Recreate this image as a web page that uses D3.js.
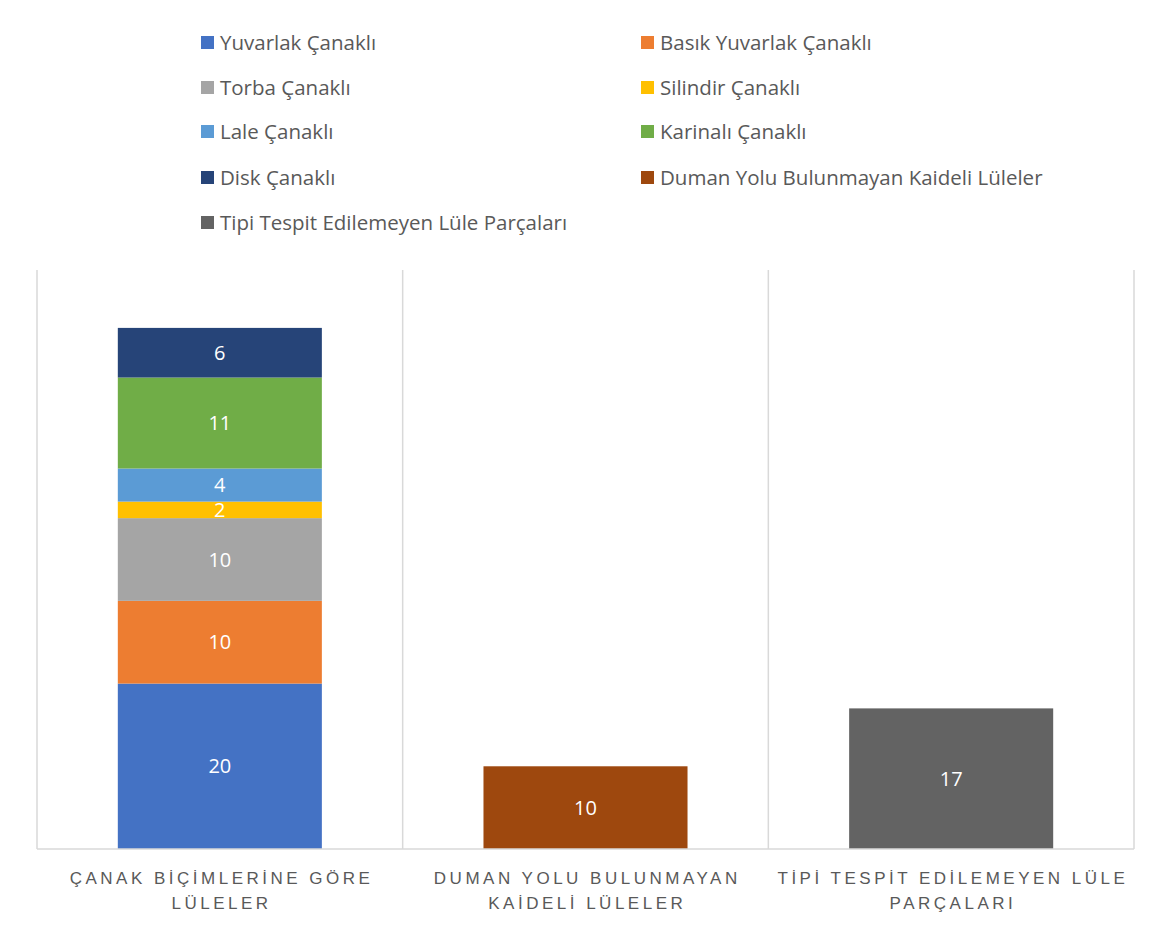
<!DOCTYPE html>
<html>
<head>
<meta charset="utf-8">
<script src="https://cdn.jsdelivr.net/npm/d3@7"></script>
<style>
  html, body { margin: 0; padding: 0; background: #fff; }
  svg { display: block; font-family: "Open Sans", Lato, sans-serif; }
</style>
</head>
<body>
<svg id="chart" width="1158" height="929"></svg>
<script>
// Categories on the x axis
const categories = [
  "ÇANAK BİÇİMLERİNE GÖRE LÜLELER",
  "DUMAN YOLU BULUNMAYAN KAİDELİ LÜLELER",
  "TİPİ TESPİT EDİLEMEYEN LÜLE PARÇALARI"
];
// Axis tick labels, split into the two lines they are drawn on
const tickLines = [
  ["ÇANAK BİÇİMLERİNE GÖRE", "LÜLELER"],
  ["DUMAN YOLU BULUNMAYAN", "KAİDELİ LÜLELER"],
  ["TİPİ TESPİT EDİLEMEYEN LÜLE", "PARÇALARI"]
];
// Series (stack order, bottom to top)
const seriesNames = [
  "Yuvarlak Çanaklı",
  "Basık Yuvarlak Çanaklı",
  "Torba Çanaklı",
  "Silindir Çanaklı",
  "Lale Çanaklı",
  "Karinalı Çanaklı",
  "Disk Çanaklı",
  "Duman Yolu Bulunmayan Kaideli Lüleler",
  "Tipi Tespit Edilemeyen Lüle Parçaları"
];
// Values per series, one per category
const yuvarlak = [20, 0, 0];
const basik    = [10, 0, 0];
const torba    = [10, 0, 0];
const silindir = [2, 0, 0];
const lale     = [4, 0, 0];
const karinali = [11, 0, 0];
const disk     = [6, 0, 0];
const duman    = [0, 10, 0];
const tipi     = [0, 0, 17];
const seriesValues = [yuvarlak, basik, torba, silindir, lale, karinali, disk, duman, tipi];
const seriesColors = ["#4472C4", "#ED7D31", "#A5A5A5", "#FFC000", "#5B9BD5",
                      "#70AD47", "#264478", "#9E480E", "#636363"];

const svg = d3.select("#chart");
const plot = { left: 37, right: 1134, top: 270, bottom: 849 };

// Build table rows for d3.stack
const rows = categories.map((c, i) => {
  const r = { category: c };
  seriesNames.forEach((s, j) => { r[s] = seriesValues[j][i]; });
  return r;
});
const stacked = d3.stack().keys(seriesNames)(rows);

const x = d3.scaleBand()
  .domain(categories)
  .range([plot.left, plot.right])
  .paddingInner(0.442)
  .paddingOuter(0.221);
const y = d3.scaleLinear().domain([0, 70]).range([plot.bottom, plot.top]);
const color = d3.scaleOrdinal().domain(seriesNames).range(seriesColors);

// Vertical category separators
const step = x.step();
const seps = [plot.left].concat(categories.map(c => x(c) - step * x.paddingInner() / 2 + step));
svg.append("g").selectAll("line").data(seps).join("line")
  .attr("x1", d => d).attr("x2", d => d)
  .attr("y1", plot.top).attr("y2", plot.bottom)
  .attr("stroke", "#D9D9D9").attr("stroke-width", 1.5);

// Bars
const layers = svg.append("g").selectAll("g").data(stacked).join("g")
  .attr("fill", d => color(d.key));
layers.selectAll("rect")
  .data(d => d.filter(v => v[1] - v[0] > 0))
  .join("rect")
  .attr("x", d => x(d.data.category))
  .attr("width", x.bandwidth())
  .attr("y", d => y(d[1]))
  .attr("height", d => y(d[0]) - y(d[1]));

// Value labels
layers.selectAll("text")
  .data(d => d.filter(v => v[1] - v[0] > 0))
  .join("text")
  .attr("x", d => x(d.data.category) + x.bandwidth() / 2)
  .attr("y", d => (y(d[0]) + y(d[1])) / 2)
  .attr("dy", "0.36em")
  .attr("text-anchor", "middle")
  .attr("fill", "#fff")
  .attr("font-size", 20)
  .text(d => d[1] - d[0]);

// Baseline axis
const xAxis = svg.append("g")
  .attr("transform", `translate(0,${plot.bottom})`)
  .call(d3.axisBottom(x).tickSize(0).tickFormat(""));
xAxis.select(".domain").attr("stroke", "#D9D9D9").attr("stroke-width", 1.5)
  .attr("d", `M${plot.left},0H${plot.right}`);

// Wrapped category labels
xAxis.selectAll(".tick").each(function(d, i) {
  const t = d3.select(this).append("text")
    .attr("fill", "#595959")
    .attr("font-size", 17)
    .attr("letter-spacing", "3.5px")
    .attr("text-anchor", "middle");
  tickLines[i].forEach((line, k) => {
    t.append("tspan").attr("x", 1.75).attr("y", 35 + k * 25).text(line);
  });
});

// Legend, two columns
const legendCols = [201, 641];
const legendRows = [43, 88, 132, 178, 223];
const legend = svg.append("g").selectAll("g").data(seriesNames).join("g")
  .attr("transform", (d, i) => `translate(${legendCols[i % 2]},${legendRows[Math.floor(i / 2)]})`);
legend.append("rect")
  .attr("x", 0).attr("y", -7).attr("width", 13).attr("height", 13)
  .attr("fill", d => color(d));
legend.append("text")
  .attr("x", 19).attr("dy", "0.35em")
  .attr("fill", "#595959").attr("font-size", 20.5)
  .text(d => d);
</script>
</body>
</html>
